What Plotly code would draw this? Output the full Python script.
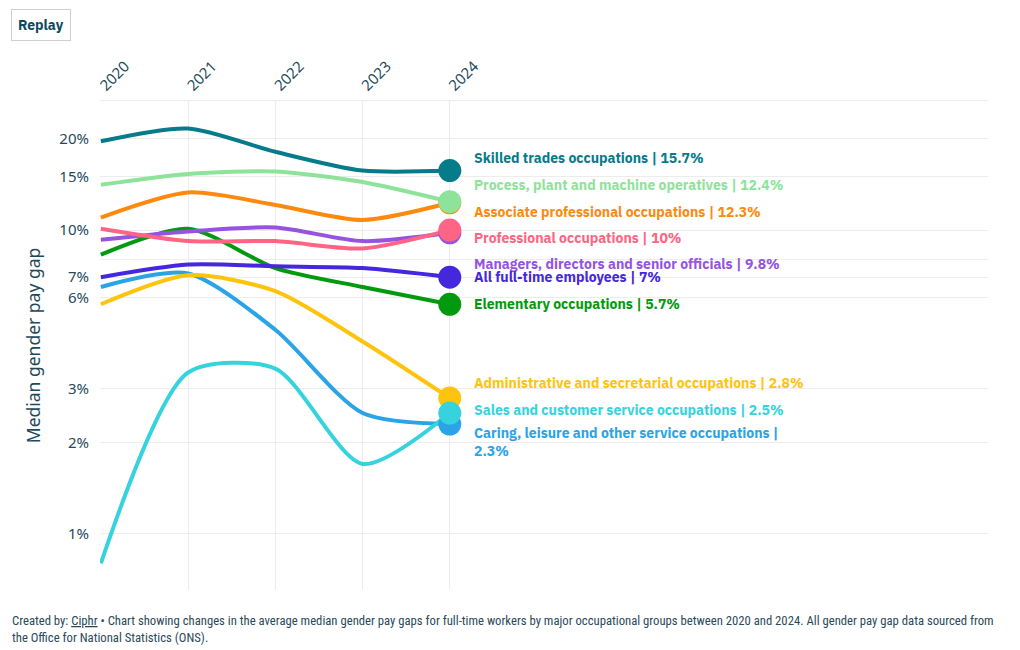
import plotly.graph_objects as go
import math

years = [2020, 2021, 2022, 2023, 2024]

names = [
    "Skilled trades occupations",
    "Process, plant and machine operatives",
    "Associate professional occupations",
    "Professional occupations",
    "Managers, directors and senior officials",
    "All full-time employees",
    "Elementary occupations",
    "Administrative and secretarial occupations",
    "Sales and customer service occupations",
    "Caring, leisure and other service occupations",
]

skilled = [19.6, 21.6, 18.1, 15.7, 15.7]
process = [14.1, 15.3, 15.6, 14.4, 12.4]
associate = [11.0, 13.3, 12.1, 10.8, 12.3]
professional = [10.1, 9.2, 9.2, 8.7, 10.0]
managers = [9.3, 9.9, 10.2, 9.2, 9.8]
all_ft = [7.0, 7.7, 7.6, 7.5, 7.0]
elementary = [8.3, 10.1, 7.5, 6.5, 5.7]
admin = [5.7, 7.1, 6.3, 4.3, 2.8]
sales = [0.8, 3.4, 3.5, 1.7, 2.5]
caring = [6.5, 7.2, 4.7, 2.5, 2.3]

series = [skilled, process, associate, professional, managers, all_ft,
          elementary, admin, sales, caring]

colors = ["#067b8a", "#8ee39b", "#fd8a0f", "#fe6584", "#9653df", "#4527dd",
          "#019a0e", "#fec40c", "#36d3de", "#2aa4e6"]

# vertical label offsets (px) to avoid overlap, by series index
label_shift = [13, 17, -9, -8, -31, 0, 0, 15, 3, -18]

y_tickvals = [1, 2, 3, 6, 7, 8, 10, 15, 20]
y_ticktext = ["1%", "2%", "3%", "6%", "7%", "", "10%", "15%", "20%"]

draw_order = [9, 7, 6, 5, 4, 3, 2, 1, 0, 8]

fig = go.Figure()
for i in draw_order:
    vals = series[i]
    fig.add_trace(go.Scatter(
        x=years, y=vals, mode="lines",
        line=dict(color=colors[i], width=4, shape="spline", smoothing=0.75),
        hoverinfo="skip", showlegend=False,
    ))
for i in draw_order:
    vals = series[i]
    fig.add_trace(go.Scatter(
        x=[years[-1]], y=[vals[-1]], mode="markers",
        marker=dict(color=colors[i], size=23),
        hoverinfo="skip", showlegend=False, cliponaxis=False,
    ))

label_font = "IBM Plex Sans, Noto Sans, sans-serif"
for i, vals in enumerate(series):
    v = vals[-1]
    vs = f"{v:g}"
    txt = f"{names[i]} | {vs}%"
    if i == 9:
        txt = f"{names[i]} |<br>{vs}%"
    fig.add_annotation(
        x=years[-1], y=math.log10(v), xref="x", yref="y",
        text=f"<b>{txt}</b>", showarrow=False,
        xanchor="left", yanchor="middle", align="left",
        xshift=22, yshift=label_shift[i],
        font=dict(family=label_font, size=14, color=colors[i]),
    )

# Replay button
fig.add_annotation(
    x=-0.0659, y=1.1564, xref="paper", yref="paper",
    text="<b>Replay</b>", showarrow=False, xanchor="center", yanchor="middle",
    font=dict(family=label_font, size=14, color="#0e4a5e"),
    bordercolor="#cfcfcf", borderwidth=1, borderpad=6, bgcolor="white",
)

# Footer
fig.add_annotation(
    x=-0.1013, y=-0.043, xref="paper", yref="paper",
    text=("Created by: <u>Ciphr</u> • Chart showing changes in the average median gender pay gaps for "
          "full-time workers by major occupational groups between 2020 and 2024. All gender pay gap data sourced from"
          "<br>the Office for National Statistics (ONS)."),
    showarrow=False, xanchor="left", yanchor="top", align="left",
    font=dict(family="Liberation Sans Narrow, Roboto Condensed, Arial Narrow, sans-serif",
              size=12.7, color="#2a4a5a"),
)

fig.update_layout(
    width=1020, height=650,
    margin=dict(l=100, r=32, t=101, b=60),
    paper_bgcolor="white", plot_bgcolor="white",
    font=dict(family="Noto Sans, sans-serif", color="#1f4a5c"),
    xaxis=dict(
        side="top", range=[2019.99, 2030.17], tickvals=years,
        ticktext=[str(y) for y in years], tickangle=-45,
        showgrid=True, gridcolor="#ececec", gridwidth=1,
        zeroline=False, showline=True, linecolor="#ececec",
        tickfont=dict(size=15, color="#1f4a5c"), ticks="",
    ),
    yaxis=dict(
        type="log", range=[math.log10(0.654), math.log10(26.6)],
        tickvals=y_tickvals, ticktext=y_ticktext,
        showgrid=True, gridcolor="#ececec", gridwidth=1,
        zeroline=False, showline=False,
        tickfont=dict(size=15, color="#1f4a5c"), ticks="",
        ticklabelstandoff=10,
        title=dict(text="Median gender pay gap", font=dict(size=17.5, color="#1f4a5c"), standoff=14),
    ),
)

fig.write_html("out.html")
